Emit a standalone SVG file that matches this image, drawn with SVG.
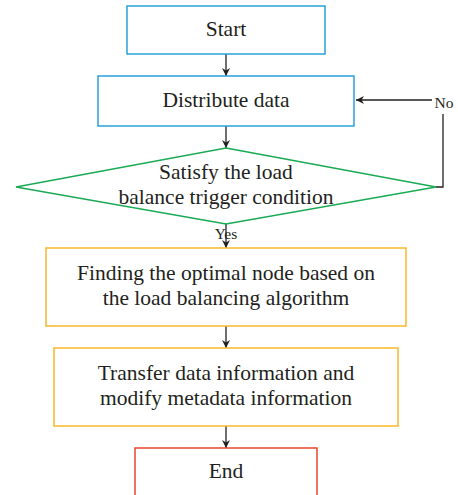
<svg xmlns="http://www.w3.org/2000/svg" width="458" height="495" viewBox="0 0 458 495">
<style>
text{font-family:"Liberation Serif","Times New Roman",serif;font-size:21.5px;fill:#231f20;text-anchor:middle}
.box{fill:#fff;stroke-width:1.5}
.conn{fill:none;stroke:#231f20;stroke-width:1.3}
</style>
<defs>
<marker id="ah" viewBox="0 0 10 10" refX="10" refY="5" markerWidth="8" markerHeight="8" markerUnits="userSpaceOnUse" orient="auto">
<path d="M0,0 L10,5 L0,10 L3,5 Z" fill="#231f20"/>
</marker>
</defs>
<rect width="458" height="495" fill="#fff"/>
<g id="connectors">
<line class="conn" x1="226" y1="54" x2="226" y2="76" marker-end="url(#ah)"/>
<line class="conn" x1="226" y1="126" x2="226" y2="148" marker-end="url(#ah)"/>
<line class="conn" x1="226" y1="224" x2="226" y2="248" marker-end="url(#ah)"/>
<line class="conn" x1="226" y1="326" x2="226" y2="348" marker-end="url(#ah)"/>
<line class="conn" x1="226" y1="426" x2="226" y2="448" marker-end="url(#ah)"/>
<polyline class="conn" points="436,187 443,187 443,114"/>
<line class="conn" x1="432" y1="100" x2="356" y2="100" marker-end="url(#ah)"/>
<text x="444" y="108" style="font-size:15.5px">No</text>
<text x="226" y="239" style="font-size:15.5px">Yes</text>
</g>
<g id="start">
<rect class="box" x="127" y="6" width="198" height="48" stroke="#29a3dc"/>
<text x="226" y="36">Start</text>
</g>
<g id="distribute">
<rect class="box" x="98" y="76" width="256" height="50" stroke="#29a3dc"/>
<text x="226" y="107">Distribute data</text>
</g>
<g id="decision">
<polygon class="box" points="226,148 436,187 226,224 16,187" stroke="#1aaa55"/>
<text x="226" y="179">Satisfy the load</text>
<text x="226" y="204">balance trigger condition</text>
</g>
<g id="finding">
<rect class="box" x="46" y="248" width="360" height="78" stroke="#f9b82a"/>
<text x="226" y="280">Finding the optimal node based on</text>
<text x="226" y="305">the load balancing algorithm</text>
</g>
<g id="transfer">
<rect class="box" x="54" y="348" width="344" height="78" stroke="#f9b82a"/>
<text x="226" y="380">Transfer data information and</text>
<text x="226" y="405">modify metadata information</text>
</g>
<g id="end">
<rect class="box" x="135" y="448" width="182" height="60" stroke="#e8452c"/>
<text x="226" y="478">End</text>
</g>
</svg>
